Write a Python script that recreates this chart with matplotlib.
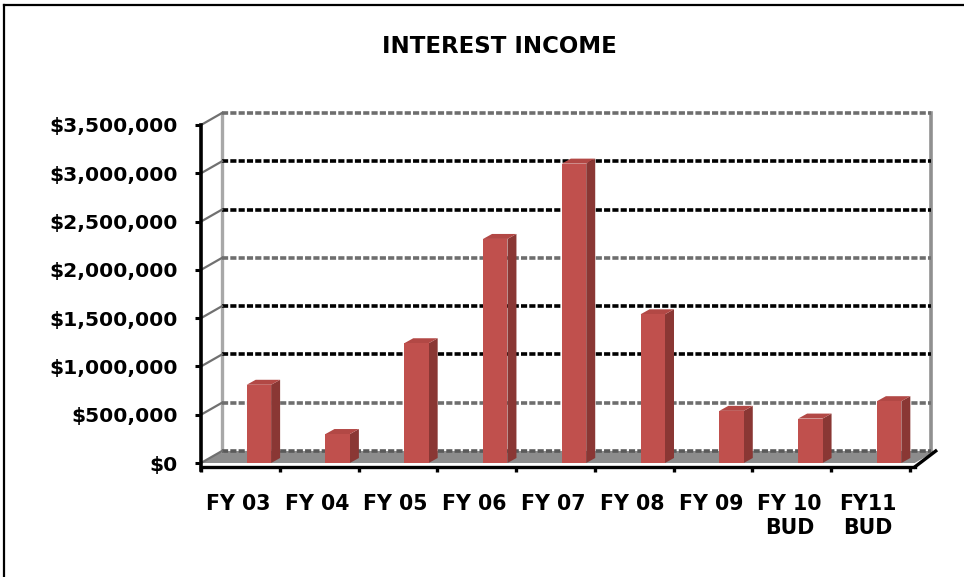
import matplotlib
matplotlib.use("Agg")
import matplotlib.pyplot as plt
from matplotlib.patches import Polygon
from matplotlib.lines import Line2D
from matplotlib.ticker import FuncFormatter, MultipleLocator

# data
years = ["FY 03", "FY 04", "FY 05", "FY 06", "FY 07", "FY 08", "FY 09", "FY 10\nBUD", "FY11\nBUD"]
income = [810000, 300000, 1240000, 2320000, 3100000, 1540000, 540000, 460000, 640000]
y_max = 3500000
y_step = 500000

plt.rcParams["font.family"] = "DejaVu Sans"
plt.rcParams["font.weight"] = "bold"

W, H = 964, 577
fig = plt.figure(figsize=(W / 100, H / 100), dpi=100)

# front plot area in pixels
left_px, right_px, base_px, top_px = 201, 910, 463, 125
ax = fig.add_axes([left_px / W, (H - base_px) / H,
                   (right_px - left_px) / W, (base_px - top_px) / H])
n = len(years)
ax.set_xlim(0, n)
ax.set_ylim(0, y_max)

# pixel -> data helpers for the fake 3d depth
xu = n / (right_px - left_px)
yu = y_max / (base_px - top_px)
DX, DY = 21 * xu, 12 * yu        # wall depth
BDX, BDY = 9 * xu, 5 * yu        # bar depth
bar_off, bar_w = 0.58, 0.31

front_c = "#C0504D"
side_c = "#8A3734"
top_c = "#B24845"

# floor
floor = Polygon([(0, 0), (n + 0.06, 0), (n + 0.06 + DX, DY), (DX, DY)],
                closed=True, fc="#8c8c8c", ec="none", clip_on=False, zorder=1)
ax.add_patch(floor)

# walls: back-left edge and right edge
ax.plot([DX, DX], [DY, y_max + DY], color="#a8a8a8", lw=2.4, clip_on=False, zorder=2)
ax.plot([n + DX, n + DX], [DY, y_max + DY], color="#909090", lw=2.6, clip_on=False, zorder=2)

# gridlines on back wall + diagonals on the side wall
levels = list(range(0, y_max + 1, y_step))
dark = {1000000, 1500000, 2500000, 3000000}
for v in levels:
    c = "black" if v in dark else "#6e6e6e"
    if v == 0:
        c = "#5a5a5a"
    ax.plot([DX, n + DX], [v + DY, v + DY], color=c, lw=2.6,
            dashes=(1.7, 0.6), clip_on=False, zorder=2)
    ax.plot([0, DX], [v, v + DY], color="#707070", lw=1.6, clip_on=False, zorder=2)

# bars
xs = [i + bar_off for i in range(n)]
ax.bar(xs, income, width=bar_w, align="edge", color=front_c, zorder=5, clip_on=False)
for x, v in zip(xs, income):
    xr = x + bar_w
    side = Polygon([(xr, 0), (xr + BDX, BDY), (xr + BDX, v + BDY), (xr, v)],
                   closed=True, fc=side_c, ec="none", zorder=4, clip_on=False)
    top = Polygon([(x, v), (xr, v), (xr + BDX, v + BDY), (x + BDX, v + BDY)],
                  closed=True, fc=top_c, ec="none", zorder=4, clip_on=False)
    ax.add_patch(side)
    ax.add_patch(top)

# floor shadow edge on the right
ax.plot([n + 0.06, n + 0.06 + DX], [-4 * yu, DY], color="black", lw=2.4,
        clip_on=False, zorder=3)

# axes styling
for s in ["top", "right"]:
    ax.spines[s].set_visible(False)
ax.spines["left"].set_linewidth(2.6)
ax.spines["left"].set_bounds(-7 * yu, y_max)
ax.spines["bottom"].set_linewidth(2.4)
ax.spines["bottom"].set_position(("outward", 3))
ax.spines["bottom"].set_bounds(0, n + 0.06)
ax.patch.set_alpha(0)

ax.yaxis.set_major_locator(MultipleLocator(y_step))
ax.yaxis.set_major_formatter(FuncFormatter(lambda v, p: "${:,.0f}".format(v)))
ax.tick_params(axis="y", direction="out", length=4.5, width=2.2, pad=12,
               labelsize=14.6)

ax.set_xticks(range(n + 1))
ax.set_xticklabels([])
ax.set_xticks([i + 0.47 for i in range(n)], minor=True)
ax.set_xticklabels(years, minor=True, fontsize=14.8, linespacing=1.25)
ax.tick_params(axis="x", which="major", direction="out", length=3.5, width=2.4)
ax.tick_params(axis="x", which="minor", length=0, pad=19)

# title
fig.text(0.518, 0.92, "INTEREST INCOME", ha="center", va="center",
         fontsize=16.5, fontweight="bold")

# chart border (left and top visible)
fig.add_artist(Line2D([4 / W, 4 / W], [0, 1 - 5 / H], color="black", lw=1.6))
fig.add_artist(Line2D([4 / W, 1], [1 - 5 / H, 1 - 5 / H], color="black", lw=1.6))

fig.savefig("out.png", dpi=100)
